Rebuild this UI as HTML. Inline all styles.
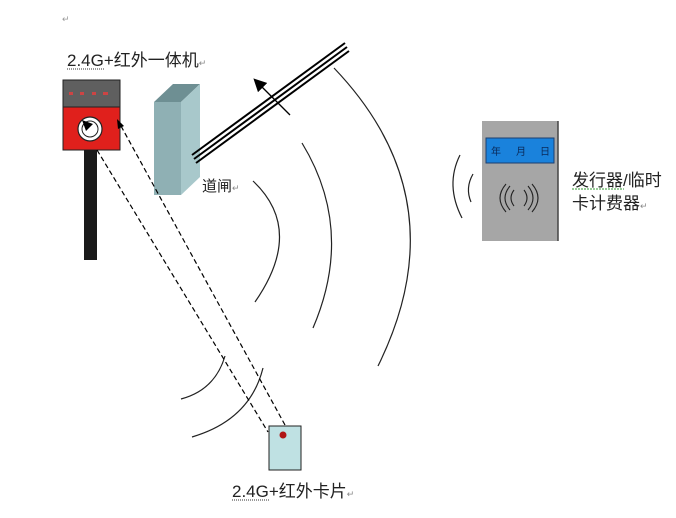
<!DOCTYPE html>
<html><head><meta charset="utf-8"><style>
html,body{margin:0;padding:0;background:#fff;width:676px;height:518px;overflow:hidden}
text{font-family:"Liberation Sans","Noto Sans CJK SC",sans-serif}
</style></head><body>
<svg width="676" height="518" viewBox="0 0 676 518" xmlns="http://www.w3.org/2000/svg">
<defs><marker id="ah" markerWidth="10" markerHeight="10" refX="5" refY="5" orient="auto"><path d="M0,0 L10,5 L0,10 z" fill="#000"/></marker></defs>
<text x="62" y="22" font-size="9" fill="#999">↵</text>
<text x="67" y="66" font-size="17" fill="#222">2.4G+红外一体机<tspan font-size="9" fill="#888">↵</tspan></text>
<line x1="67" y1="69" x2="104" y2="69" stroke="#333" stroke-dasharray="1,1"/>
<!-- device -->
<rect x="63" y="80" width="57" height="27" fill="#5f5f5f" stroke="#222"/>
<g fill="#c44"><rect x="69" y="92" width="4" height="3"/><rect x="80" y="92" width="4" height="3"/><rect x="92" y="92" width="4" height="3"/><rect x="103" y="92" width="5" height="3"/></g>
<rect x="63" y="107" width="57" height="43" fill="#e0201c" stroke="#222"/>
<rect x="84" y="150" width="13" height="110" fill="#1a1a1a"/>
<circle cx="90" cy="129" r="12" fill="#fff" stroke="#222" stroke-width="1.2"/>
<circle cx="90" cy="129" r="8" fill="none" stroke="#222"/>
<path d="M82,120 L93,124 L86,131 z" fill="#000"/>
<!-- gate -->
<polygon points="154,102 173,84 200,84 181,102" fill="#6e8f93"/>
<polygon points="181,102 200,84 200,177 181,195" fill="#a8c8cb"/>
<rect x="154" y="102" width="27" height="93" fill="#8fb0b4"/>
<g stroke="#000" stroke-width="2"><line x1="192" y1="155" x2="345" y2="43"/><line x1="194" y1="159" x2="347" y2="47"/><line x1="196" y1="163" x2="349" y2="51"/></g>
<line x1="290" y1="115" x2="258" y2="83" stroke="#000" stroke-width="1.3" marker-end="url(#ah)"/>
<text x="202" y="191" font-size="15" fill="#222">道闸<tspan font-size="9" fill="#888">↵</tspan></text>
<!-- arcs -->
<g fill="none" stroke="#222" stroke-width="1.2">
<path d="M334,68 Q460,200 378,366"/>
<path d="M302,143 Q355,230 313,328"/>
<path d="M253,181 Q305,230 255,302"/>
<path d="M181,399 Q215,390 225,356"/>
<path d="M192,437 Q250,420 263,368"/>
<path d="M460,155 Q445,185 462,218"/>
<path d="M473,174 Q465,188 471,202"/>
</g>
<!-- dashed -->
<g stroke="#000" stroke-width="1.2" stroke-dasharray="5,3" fill="none">
<line x1="97" y1="150" x2="268" y2="432"/>
<line x1="285" y1="425" x2="121" y2="126"/>
</g>
<path d="M117,119 L124,126 L118,129 z" fill="#000"/>
<!-- card -->
<rect x="269" y="426" width="32" height="44" fill="#bfe1e3" stroke="#222"/>
<circle cx="283" cy="435" r="3.5" fill="#b01515"/>
<text x="232" y="497" font-size="17" fill="#222">2.4G+红外卡片<tspan font-size="9" fill="#888">↵</tspan></text>
<line x1="232" y1="500" x2="270" y2="500" stroke="#333" stroke-dasharray="1,1"/>
<!-- issuer -->
<rect x="482" y="121" width="76" height="120" fill="#a6a6a6"/>
<line x1="558" y1="121" x2="558" y2="241" stroke="#444" stroke-width="1.5"/>
<rect x="486" y="138" width="68" height="25" fill="#1a82dc" stroke="#1c3f6e"/>
<text x="491" y="155" font-size="10" fill="#0a2a5a">年</text>
<text x="516" y="155" font-size="10" fill="#0a2a5a">月</text>
<text x="540" y="155" font-size="10" fill="#0a2a5a">日</text>
<g fill="none" stroke="#222" stroke-width="1.1">
<path d="M510,186 Q500,198 510,210"/><path d="M506,184 Q494,198 506,212"/><path d="M514,190 Q508,198 514,206"/>
<path d="M528,186 Q538,198 528,210"/><path d="M532,184 Q544,198 532,212"/><path d="M524,190 Q530,198 524,206"/>
</g>
<text x="572" y="186" font-size="17" fill="#222">发行器/临时</text>
<text x="572" y="209" font-size="17" fill="#222">卡计费器<tspan font-size="9" fill="#888">↵</tspan></text>
<line x1="572" y1="189" x2="624" y2="189" stroke="#393" stroke-dasharray="2,1"/>
</svg>
</body></html>
